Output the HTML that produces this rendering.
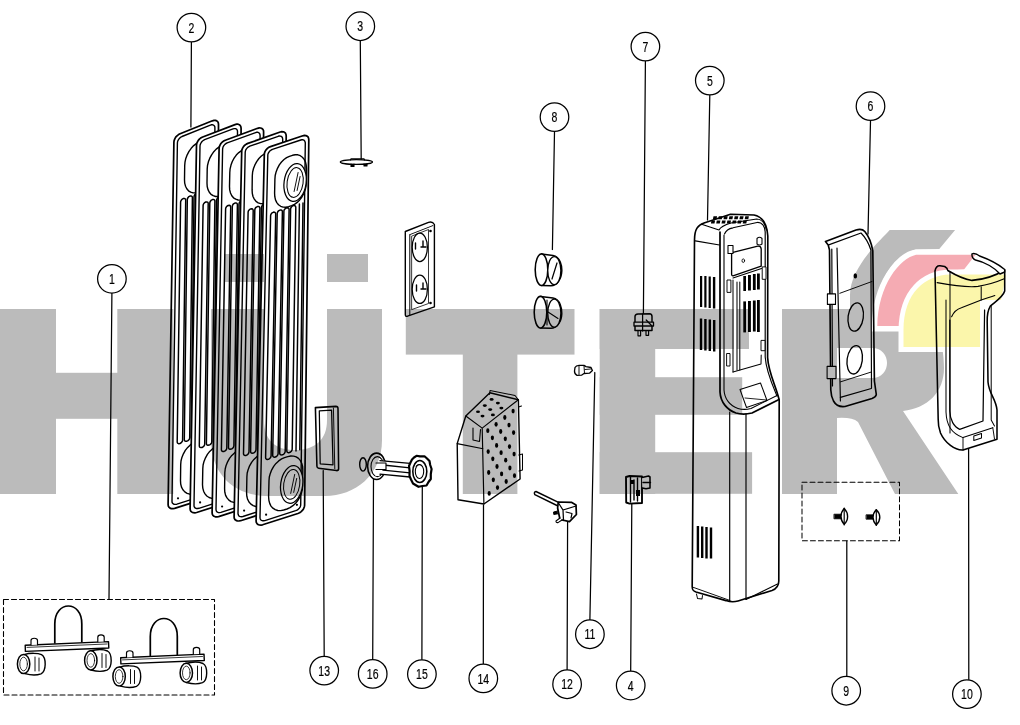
<!DOCTYPE html>
<html><head><meta charset="utf-8"><style>
html,body{margin:0;padding:0;background:#fff;}
svg{display:block;}
text{font-family:"Liberation Sans",sans-serif;font-size:15px;fill:#000;stroke:#000;stroke-width:0.2px;}
</style></head><body>
<svg width="1020" height="725" viewBox="0 0 1020 725">
<rect width="1020" height="725" fill="#fff"/>
<g id="art" fill="none" stroke="#000" stroke-width="1.2" stroke-linejoin="round" stroke-linecap="round">
<g stroke-width="1.25">
<line x1="111.9" y1="293.5" x2="109" y2="599"/>
<line x1="191.4" y1="42.3" x2="190.9" y2="127"/>
<line x1="360.3" y1="41" x2="361.2" y2="159.4"/>
<line x1="630.7" y1="670.8" x2="631.8" y2="503"/>
<line x1="709.8" y1="95.3" x2="707.5" y2="220"/>
<line x1="870.5" y1="121" x2="868" y2="234"/>
<line x1="645.4" y1="61.3" x2="643.4" y2="314"/>
<line x1="554.5" y1="131.8" x2="552.4" y2="249.5"/>
<line x1="846.8" y1="676" x2="846.8" y2="541"/>
<line x1="968.8" y1="679.4" x2="968.6" y2="447"/>
<line x1="589.9" y1="619.5" x2="594.8" y2="372.5"/>
<line x1="567.1" y1="669.5" x2="567.6" y2="521"/>
<line x1="324.2" y1="655.9" x2="323.2" y2="470.5"/>
<line x1="483.3" y1="663.7" x2="483.5" y2="505"/>
<line x1="421.9" y1="659.4" x2="422.3" y2="486"/>
<line x1="372.7" y1="659.2" x2="373.5" y2="479"/>
</g>
<g id="feet">
<rect x="3.5" y="599.5" width="211" height="95.5" stroke-dasharray="5 3" stroke-width="1.09"/>
<g id="foot1">
 <path d="M54.8,643 V624 C54.8,600 82,600 81.8,624 V642" stroke-width="1.72"/>
 <path d="M25.2,645.2 L108.5,641.6 L108.8,648 L25.4,651.4 Z" fill="#fff" stroke-width="1.40"/>
 <path d="M27,647.4 L107,644" stroke-width="0.78"/>
 <path d="M31,645 V640.5 C31,637.5 37.5,637.5 37.5,640.5 V644.8" fill="#fff" stroke-width="1.17"/>
 <path d="M97.8,641.8 V637.2 C97.8,634.2 104.2,634.2 104.2,637.2 V641.5" fill="#fff" stroke-width="1.17"/>
 <path d="M24,654.6 C30,652.8 38,653 41.5,654.6 C46.5,657.5 46.5,671 41,673.8 C37,675.2 30,675 25,673.6" fill="#fff" stroke-width="1.40"/>
 <ellipse cx="23.6" cy="664" rx="6.2" ry="9.6" fill="#fff" stroke-width="1.48"/>
 <ellipse cx="23.6" cy="664" rx="3.8" ry="6.8" stroke-width="0.78"/>
 <path d="M35,657 V671 M39,658 V671" stroke-width="0.94"/>
 <path d="M90,651 C97,649 104,649.4 107.5,651 C112.5,654 112.5,667.5 107,670.2 C103,671.6 96,671.4 91,670" fill="#fff" stroke-width="1.40"/>
 <ellipse cx="90.8" cy="660.4" rx="6.2" ry="9.6" fill="#fff" stroke-width="1.48"/>
 <ellipse cx="90.8" cy="660.4" rx="3.8" ry="6.8" stroke-width="0.78"/>
 <path d="M102,653.5 V667.5 M106,654.5 V667.5" stroke-width="0.94"/>
</g>
<use href="#foot1" transform="translate(95.5 12.5)"/>
</g>

<g id="part3">
 <ellipse cx="356.4" cy="162" rx="16" ry="2.4" fill="#fff" stroke-width="1.40"/>
 <path d="M350.5,160 L351,158.8 H364 L364.5,160" stroke-width="1.09"/>
 <path d="M351,164 V166.5 H354 V164 M364,164 V166 H367 V164" stroke-width="1.09" fill="#000"/>
</g>
<g id="plate">
 <path d="M405.3,231.5 L428.5,222.3 Q432.5,221 434.4,224.5 V306.8 L407.5,316.2 Q405.3,316.8 405.3,314.5 Z" fill="#fff" stroke-width="1.40"/>
 <path d="M409.8,234.6 L432.8,225.6 M409.8,234.6 V315" stroke-width="1.01"/>
 <path d="M412,236 L428.5,229.5 V303.5 L412,309.5 Z" stroke-width="0.78"/>
 <ellipse cx="419.8" cy="247.3" rx="7.6" ry="14.2" stroke-width="1.25"/>
 <ellipse cx="419.8" cy="289.3" rx="7.6" ry="14.2" stroke-width="1.25"/>
 <path d="M415.5,243 V249 M416.5,285 V291 M423,241 V246 M423,283 V288 M421,247 H426 M421,289 H426" stroke-width="1.40"/>
 <circle cx="430.5" cy="231" r="1.3" fill="#000" stroke="none"/>
 <circle cx="430.5" cy="303" r="1.3" fill="#000" stroke="none"/>
</g>

<g id="part13">
 <path d="M315.4,407.6 L335.8,406.4 Q338,406.4 338,408.6 L338.6,468.8 Q338.6,470.6 336.6,470.6 L318.6,468.2 Q317,468 316.9,466.3 Z" fill="#fff" stroke-width="1.56"/>
 <path d="M319.3,410.8 L331.6,410.2 L333,464.8 L320.2,463.8 Z" stroke-width="1.25"/>
 <path d="M333.4,408 L334.8,468.6" stroke-width="0.94"/>
</g>
<g id="part16">
 <ellipse cx="363" cy="464.4" rx="3.3" ry="6.7" fill="#fff" stroke-width="1.40"/>
 <ellipse cx="376.6" cy="466.3" rx="9" ry="13.2" fill="#fff" stroke-width="1.56"/>
 <ellipse cx="377.4" cy="466.6" rx="6.4" ry="10" stroke-width="1.09"/>
</g>
<g id="tube">
 <path d="M381,460.6 L410,463.3 L410,477 L381,474.2 Z" fill="#fff" stroke="none"/>
 <path d="M380,460.6 L410,463.4 M380,474.2 L410,477 M383,465 L410,467.8 M383,470.2 L410,472.8" stroke-width="1.33"/>
 <path d="M376,463 H386 V469.5 H376" fill="#fff" stroke-width="1.17"/>
</g>
<g id="part15">
 <path d="M412,459.5 L414,457.5 L416.5,455.8 L420,456.4 L424.5,456.3 L427,458.5 L429.5,461 L430.2,465 L431.6,469 L430.8,474 L430.8,479 L428.5,482 L426.5,485.5 L422.5,486 L418.5,486.8 L415.5,485 L413,483.5 L411,479.5 L409.5,476 L409.6,471 L409,466 L410.5,462.5 Z" fill="#fff" stroke-width="2.18"/>
 <ellipse cx="419.8" cy="471.5" rx="7" ry="11" stroke-width="1.56"/>
 <ellipse cx="419.5" cy="471.5" rx="4.2" ry="7" stroke-width="1.09"/>
 <path d="M416,466 Q419,463 422,466" stroke-width="0.94"/>
</g>
<g id="part14">
 <path d="M465.8,416 L489.9,392.8 L518.4,399.7 L520.1,479 L483.9,504 L458,499.7 L457.2,443.6 Z" fill="#fff" stroke-width="1.40"/>
 <path d="M465.8,416 L482.2,428.1 L518.4,399.7 M482.2,428.1 L483.9,504 M457.2,443.6 L483,448.8" stroke-width="1.17"/>
 <path d="M489.5,394.5 L490,390.5 L515,395.5 L518.4,399.7" stroke-width="1.01"/>
 <path d="M473,428 L473,440 L479.5,441.5 L480.5,429.5" stroke-width="1.09"/>
 <path d="M518.5,407 L521.5,406 M518.8,455 L522.5,454 L522.5,470 L519,471" stroke-width="1.01"/>
 <g fill="#000" stroke="none">
 <ellipse cx="478.0" cy="411.7" rx="2" ry="1.3"/><ellipse cx="484.8" cy="405.6" rx="2" ry="1.3"/><ellipse cx="491.6" cy="399.4" rx="2" ry="1.3"/><ellipse cx="482.5" cy="416.1" rx="2" ry="1.3"/><ellipse cx="490.2" cy="409.6" rx="2" ry="1.3"/><ellipse cx="497.9" cy="403.1" rx="2" ry="1.3"/><ellipse cx="492.9" cy="414.9" rx="2" ry="1.3"/><ellipse cx="501.4" cy="408.1" rx="2" ry="1.3"/>
 <ellipse cx="487.8" cy="430.7" rx="1.6" ry="2.4"/><ellipse cx="496.1" cy="424.3" rx="1.6" ry="2.4"/><ellipse cx="504.8" cy="417.5" rx="1.6" ry="2.4"/><ellipse cx="513.1" cy="411.1" rx="1.6" ry="2.4"/><ellipse cx="492.4" cy="437.8" rx="1.6" ry="2.4"/><ellipse cx="500.7" cy="431.5" rx="1.6" ry="2.4"/><ellipse cx="509.0" cy="425.1" rx="1.6" ry="2.4"/><ellipse cx="488.2" cy="451.6" rx="1.6" ry="2.4"/><ellipse cx="496.6" cy="445.4" rx="1.6" ry="2.4"/><ellipse cx="505.3" cy="438.8" rx="1.6" ry="2.4"/><ellipse cx="513.6" cy="432.6" rx="1.6" ry="2.4"/><ellipse cx="492.8" cy="458.8" rx="1.6" ry="2.4"/><ellipse cx="501.1" cy="452.7" rx="1.6" ry="2.4"/><ellipse cx="509.5" cy="446.6" rx="1.6" ry="2.4"/><ellipse cx="488.7" cy="472.5" rx="1.6" ry="2.4"/><ellipse cx="497.0" cy="466.5" rx="1.6" ry="2.4"/><ellipse cx="505.7" cy="460.2" rx="1.6" ry="2.4"/><ellipse cx="514.1" cy="454.1" rx="1.6" ry="2.4"/><ellipse cx="493.3" cy="479.8" rx="1.6" ry="2.4"/><ellipse cx="501.6" cy="473.9" rx="1.6" ry="2.4"/><ellipse cx="509.9" cy="468.0" rx="1.6" ry="2.4"/><ellipse cx="489.2" cy="493.4" rx="1.6" ry="2.4"/><ellipse cx="497.5" cy="487.6" rx="1.6" ry="2.4"/><ellipse cx="506.2" cy="481.5" rx="1.6" ry="2.4"/><ellipse cx="514.5" cy="475.7" rx="1.6" ry="2.4"/>
 </g>
</g>
<g id="part12">
 <path d="M536,491.5 L559.5,502.8 L558,506 L534.8,494.6 Q533.5,492 536,491.5 Z" fill="#fff" stroke-width="1.40"/>
 <path d="M558.3,502 L571.4,502.3 L576,505 L576.4,514.5 L569.5,521.6 L560,519.5 L557.6,508 Z" fill="#fff" stroke-width="1.72"/>
 <path d="M558.5,503 L563,510 L576,506 M563,510 L563.5,520.5" stroke-width="1.25"/>
 <path d="M566,512 L572,513.5 L571,518" stroke-width="1.17"/>
 <path d="M557.6,511 L553.5,512 L553.8,514.5 L558,513.8" fill="#000" stroke-width="0.94"/>
 <path d="M560,518 L556,521 Q555.8,523 558,522.6 L562,520" fill="#fff" stroke-width="1.09"/>
</g>
<g id="part11">
 <path d="M575,367.5 Q576,365.5 579,365.3 L584,365.4 L586,366.6 L591,367.5 L592.4,370.5 L589.5,373.2 L584,373.5 L581.5,375.2 L577,375.3 Q574.4,374 574.5,371 Z" fill="#fff" stroke-width="1.33"/>
 <path d="M579,366 V374.5 M584,366 L584.5,373.3 M585,369.5 L590.5,369" stroke-width="0.94"/>
</g>
<g id="part4">
 <path d="M626,477 L629.5,476 L642,476.5 V503 L629.5,503.6 L626.2,502.5 Z" fill="#fff" stroke-width="1.87"/>
 <path d="M642,477.5 L648.5,476 L650,477 V488 L646,488.8 L642.3,488" fill="#fff" stroke-width="1.56"/>
 <path d="M630.5,477 V502 M634,480 V500 M637.5,478 V501 M643,482.5 H650.5" stroke-width="1.40"/>
 <rect x="631" y="480" width="3" height="4" fill="#000" stroke="none"/>
 <rect x="636" y="490" width="4" height="6" fill="#000" stroke="none"/>
</g>
<g id="part7">
 <path d="M635,316.5 Q635,314.2 638,314 L649.5,313.8 Q652,314 652,316.5 V330.5 H635 Z" fill="#fff" stroke-width="1.48"/>
 <path d="M634,322.2 H653.5 V326 H634 Z" fill="#fff" stroke-width="1.33"/>
 <path d="M642.6,314 V331 M646.2,320 L651.5,325.5" stroke-width="1.25"/>
 <path d="M638,331 V335.8 H640.6 V331 M646,331 V335.3 H648.6 V331" stroke-width="1.17"/>
</g>
<g id="part8">
 <path d="M541.5,254 L553,255.5 C560.5,256.5 562,267 561.8,271 C561.5,279 557,285.8 551,285.8 L541.5,285.4" fill="#fff" stroke-width="1.48"/>
 <ellipse cx="541.5" cy="269.7" rx="6.3" ry="15.8" fill="#fff" stroke-width="1.56"/>
 <ellipse cx="554.3" cy="270.6" rx="6.6" ry="14" fill="#fff" stroke-width="1.40"/>
 <path d="M552,279 L557,263" stroke-width="1.25"/>
 <path d="M540.5,296.5 L553,298 C560.5,299 562,309.6 561.8,313.6 C561.5,321.5 557,328.3 551,328.3 L540.5,328" fill="#fff" stroke-width="1.48"/>
 <ellipse cx="540.5" cy="312.2" rx="6.3" ry="15.8" fill="#fff" stroke-width="1.56"/>
 <ellipse cx="554.3" cy="313.1" rx="6.6" ry="14" fill="#fff" stroke-width="1.40"/>
 <path d="M548,312 L558,318.5 M547,300 V325" stroke-width="1.09"/>
</g>
<g id="part9">
 <rect x="802" y="482.3" width="97.5" height="58.4" stroke-dasharray="5 3" stroke-width="1.01"/>
 <path d="M834.3,514.2 H842 V518.8 H834.3 Z" fill="#000" stroke-width="0.78"/>
 <path d="M844.2,508.5 Q847.6,512 847.6,516.4 Q847.6,521 844.2,524.2 Q841,521 841,516.4 Q841,512 844.2,508.5 Z" fill="#fff" stroke-width="1.40"/>
 <path d="M844.2,508 V525" stroke-width="1.17"/>
 <path d="M866.4,514.8 H874 V519.2 H866.4 Z" fill="#000" stroke-width="0.78"/>
 <path d="M876.3,509.8 Q879.8,513.2 879.8,517.3 Q879.8,521.6 876.3,524.9 Q873,521.6 873,517.3 Q873,513.2 876.3,509.8 Z" fill="#fff" stroke-width="1.40"/>
 <path d="M876.3,509.5 V525.5" stroke-width="1.17"/>
</g>

<g id="part5">
 <path d="M694.5,240 C694.5,229 698,225 704,223 L730.5,214.3 L754,215 C762,216.5 767,224 767.8,236 L767.6,357.6 C768.5,373 776,386 779.2,400 L778.8,581 C778.8,587 776,589 772,590.5 L738,601 C734,602.2 730,602 726,600.6 L696,592 C693,591 692.2,590 692.2,586.5 Z" fill="#fff" stroke-width="1.64"/>
 <path d="M696.5,594 L697.5,598.5 L702,599 L702.5,595.5" stroke-width="1.01"/>
 <path d="M695.3,240.9 L719.5,245 M701.6,224.3 L719,230 C721,226 726,224.5 731,223 L756.7,219 C761,219 765,223 766.5,230" stroke-width="1.17"/>
 <path d="M713.5,216.3 h3.6 l-0.6,3 h-3.6 Z M718.8,216.3 h3.6 l-0.6,3 h-3.6 Z M724.1,216.3 h3.6 l-0.6,3 h-3.6 Z M729.4,216.3 h3.6 l-0.6,3 h-3.6 Z M734.7,216.3 h3.6 l-0.6,3 h-3.6 Z M740.0,216.3 h3.6 l-0.6,3 h-3.6 Z M745.3,216.3 h3.6 l-0.6,3 h-3.6 Z M711.5,220.6 h3.6 l-0.6,3 h-3.6 Z M716.8,220.6 h3.6 l-0.6,3 h-3.6 Z M722.1,220.6 h3.6 l-0.6,3 h-3.6 Z M727.4,220.6 h3.6 l-0.6,3 h-3.6 Z M732.7,220.6 h3.6 l-0.6,3 h-3.6 Z M738.0,220.6 h3.6 l-0.6,3 h-3.6 Z M743.3,220.6 h3.6 l-0.6,3 h-3.6 Z" fill="#000" stroke="none"/>
 
 <!-- front panel upper left edge double line -->
 <path d="M720,232 V392 C720.5,402 727,410 736,413 C742,414.8 747,414.2 752,413 L779,399.5" stroke-width="1.72"/>
 <path d="M724,235 V390 C724.5,399 730,406 738,408.5 C742.5,409.8 747,409.5 751,408.5 L777,395.5" stroke-width="1.09"/>
 <path d="M724.5,234 C726,230 729,228.5 733,227.8 L757,222.5 C762,222 765,226 765.2,232 V357 C766,371 772,384 777,396" stroke-width="1.17"/>
 <!-- lower body edges -->
 <path d="M729.7,412 V600.5 M746,414 V599.5" stroke-width="1.17"/>
 <path d="M692.3,587 L730,600.5" stroke-width="0.94"/>
 <path d="M746,599.5 L777.5,584" stroke-width="1.01"/>
 <!-- control plate -->
 <path d="M733,252.4 L757.8,246.2 Q761,246 761.2,249 V266.2 L733,275.9 Q731.6,276 731.6,274 V254 Q731.6,252.8 733,252.4 Z" fill="#fff" stroke-width="1.33"/>
 <path d="M733,278 L761.5,268.5" stroke-width="1.09"/>
 <ellipse cx="743.3" cy="260.7" rx="1.3" ry="1.8" stroke-width="0.86"/>
 <path d="M728,245.5 H733 V253.5 H728 Z" fill="#fff" stroke-width="1.09"/>
 <path d="M757,238.5 Q759.5,236 762,238.5 V244 Q759.5,246 757,244 Z" fill="#fff" stroke-width="1.09"/>
 <path d="M727.4,280 H730.9 V292.4 H727.4 Z M762.6,266.9 H766 V279.3 H762.6 Z M727,353.5 H730 V366 H727 Z M761.4,340.4 H765 V350.7 H761.4 Z" fill="#fff" stroke-width="0.94"/>
 <path d="M733,280 V372 M737,282 V370 M739.8,282 V370" stroke-width="1.01"/>
 <path d="M733,372 L761,364 L761.2,355" stroke-width="1.01"/>
 <!-- front vents -->
 <g fill="#000" stroke="none">
  <rect x="743.3" y="276" width="2.7" height="15"/><rect x="748" y="275" width="2.9" height="15.5"/><rect x="752.9" y="274" width="2.8" height="16"/><rect x="757" y="273.5" width="2.8" height="16"/>
  <rect x="743.3" y="301.4" width="2.7" height="31"/><rect x="748" y="301" width="2.9" height="31"/><rect x="752.9" y="300.5" width="2.8" height="31"/><rect x="757" y="300" width="2.8" height="32"/>
 </g>
 <!-- side vents -->
 <g fill="#000" stroke="none">
  <rect x="700" y="276" width="2.2" height="31"/><rect x="704.3" y="276" width="2.2" height="31.5"/><rect x="708.6" y="276.5" width="2.2" height="31.5"/><rect x="712.9" y="277" width="2.4" height="31.5"/>
  <rect x="699.8" y="318.5" width="2.4" height="31.5"/><rect x="704.2" y="319" width="2.4" height="31.5"/><rect x="708.6" y="319.5" width="2.4" height="31.5"/><rect x="713" y="320" width="2.4" height="31.5"/>
  <rect x="696.7" y="526" width="2.4" height="31.5"/><rect x="701" y="526.5" width="2.4" height="31.5"/><rect x="705.3" y="527" width="2.4" height="31.5"/><rect x="709.8" y="527.5" width="2.4" height="31"/>
 </g>
 <!-- display window in J -->
 <path d="M740,389.5 L760.5,383 L767,400.5 L746.5,407.5 Z" stroke-width="1.01"/>
 <path d="M745,398 L766.5,400" stroke-width="0.86"/>
</g>

<g id="part6">
 <path d="M825.5,241.5 L856,230 Q862,228.3 864.8,231.5 C868.5,236 871.5,243 872.8,251 L874.4,381 L876.3,394.5 Q876,397 872,398.5 L845,406.5 Q837,407.5 833.5,401 Q831,396 830.8,390 L829.5,250 L828.2,245 Z" fill="#fff" stroke-width="1.64"/>
 <path d="M828.7,244.9 L861,233 C866,238 869,244 870.9,250 L871.5,388" stroke-width="1.17"/>
 <path d="M837,248 L840.4,401 M831.8,249 L832.5,386" stroke-width="1.17"/>
 <path d="M840.4,397.3 L871.3,388.5" stroke-width="1.25"/>
 <path d="M839.8,293.3 L872,281.5 M840.4,381.9 L871.3,372" stroke-width="0.94"/>
 <ellipse cx="855.7" cy="317" rx="7.6" ry="14.3" transform="rotate(8 855.7 317)" fill="#fff" stroke-width="1.33"/>
 <ellipse cx="854.7" cy="359.8" rx="7.6" ry="14.3" transform="rotate(8 854.7 359.8)" fill="#fff" stroke-width="1.33"/>
 <ellipse cx="855.3" cy="275.9" rx="1.8" ry="2.6" fill="#000" stroke="none"/>
 <path d="M827.4,293.9 H835.5 V304.4 H827.4 Z M827.1,366.4 H836 V378.6 H827.1 Z" fill="#fff" stroke-width="1.09"/>
</g>
<g id="part10">
 <path d="M935,271 Q936,265.5 940,265.8 L944.7,266.5 Q947.5,268 947.8,270.5 C957,276 965,279.5 972,280.4 C985,279.5 995,276 1004.7,270 V291 C1003,297 995,302 990.3,306.2 C987.5,311 987,316 987.2,322 L988,382 C989,394 996,399 997,410 V439.3 L963,450 C955,450.5 945,443 940.5,433 Q938,426 938.2,419.4 Z" fill="#fff" stroke-width="1.56"/>
 <path d="M972,253.8 Q975.5,252.8 979.6,256 C988,259 997,263 1004.7,269.5 L1004.7,272 L1000,274 C995,268 985,262 975.5,260 Q971.5,258.5 972,253.8 Z" fill="#fff" stroke-width="1.40"/>
 <path d="M937.1,282.6 C955,286 968,287.5 978,286.4 C990,284.5 998,281.5 1004.2,278.8" stroke-width="1.09"/>
 <path d="M950,272 V433 M981.2,286.8 V300" stroke-width="1.01"/>
 <path d="M951.6,316.8 C954,311 957,309 961.4,307.7 L981.2,300 C987,298 991,297 994.8,295.5" stroke-width="1.09"/>
 <path d="M949.8,320 V411 C950,420 954,427 959.7,429.3 L983,421 L984.6,310" stroke-width="1.25"/>
 <path d="M946,300 V412 C946.5,425 951,433 963,437.6 L992.8,427.7 M991.2,306 V420 L994.5,426" stroke-width="1.01"/>
 <path d="M963,437.6 V450 M992.8,427.7 L994.5,439" stroke-width="0.94"/>
 <path d="M973.8,436 L981.5,433.5 V438 L973.8,440.5 Z" stroke-width="1.01"/>
</g>

<g id="radiator">
<path d="M212.4,120.8 L214.0,120.4 L215.5,120.4 L216.7,120.9 L217.7,121.7 L218.3,122.9 L218.5,124.4 L216.5,489.0 L216.3,490.6 L215.6,492.3 L214.6,493.9 L213.2,495.2 L211.6,496.4 L209.9,497.1 L174.6,508.4 L172.9,508.7 L171.3,508.6 L170.0,508.1 L168.9,507.2 L168.3,506.0 L168.1,504.5 L173.9,142.2 L174.1,140.6 L174.8,138.9 L175.7,137.2 L177.0,135.8 L178.5,134.6 L180.1,133.8 Z" fill="#fff" stroke-width="1.72"/>
<path d="M210.4,125.1 L211.6,124.8 L212.7,124.8 L213.6,125.2 L214.3,125.8 L214.8,126.7 L214.9,127.8 L212.7,488.2 L212.5,489.4 L212.0,490.7 L211.2,491.9 L210.2,492.9 L209.0,493.7 L207.7,494.3 L176.9,504.2 L175.6,504.4 L174.4,504.4 L173.4,504.0 L172.6,503.3 L172.1,502.4 L172.0,501.3 L177.4,142.8 L177.6,141.5 L178.1,140.3 L178.8,139.1 L179.8,138.0 L180.9,137.1 L182.0,136.5 Z" stroke-width="1.40"/>
<path d="M202.2,140.9 L204.9,140.2 L207.6,140.1 L210.0,140.8 L212.2,142.2 L213.9,144.3 L215.2,146.9 L216.0,149.9 L216.3,153.3 L216.2,167.4 L215.9,171.0 L215.1,174.7 L213.7,178.4 L211.9,181.8 L209.7,184.9 L207.2,187.5 L204.5,189.6 L201.7,191.0 L198.6,192.2 L195.8,192.9 L193.1,192.9 L190.7,192.2 L188.5,190.8 L186.8,188.8 L185.5,186.2 L184.7,183.1 L184.5,179.7 L184.7,165.7 L185.0,162.1 L185.8,158.4 L187.2,154.8 L189.0,151.4 L191.2,148.3 L193.7,145.6 L196.3,143.6 L199.1,142.1 Z" stroke-width="1.40"/>
<path d="M199.4,440.5 L202.4,439.9 L205.2,440.0 L207.9,440.8 L210.1,442.2 L212.0,444.3 L213.4,447.0 L214.3,450.1 L214.5,453.5 L214.4,469.6 L214.1,473.2 L213.2,476.9 L211.8,480.5 L209.9,483.8 L207.5,486.8 L204.8,489.4 L201.9,491.3 L198.9,492.6 L195.6,493.7 L192.6,494.3 L189.8,494.2 L187.1,493.4 L184.8,491.9 L182.9,489.8 L181.5,487.1 L180.7,484.0 L180.5,480.6 L180.7,464.6 L181.0,461.0 L181.9,457.4 L183.4,453.8 L185.3,450.4 L187.7,447.4 L190.3,444.9 L193.2,442.9 L196.2,441.6 Z" stroke-width="1.40"/>
<path d="M177.2,441.9 L180.6,202.1 L180.8,201.1 L181.4,200.1 L182.2,199.2 L183.2,198.6 L184.2,198.4 L185.0,198.7 L185.6,199.3 L185.7,200.1 L182.6,440.1 L182.6,440.1 L182.4,441.1 L181.8,442.1 L180.9,443.0 L179.9,443.5 L178.8,443.7 L178.0,443.4 L177.4,442.8 L177.2,441.9 Z" stroke-width="1.48"/>
<path d="M184.3,439.6 L187.3,199.5 L187.5,198.5 L188.1,197.5 L188.9,196.6 L189.9,196.1 L190.9,195.9 L191.7,196.1 L192.2,196.7 L192.4,197.6 L189.7,437.8 L189.7,437.8 L189.5,438.8 L188.9,439.8 L188.0,440.6 L186.9,441.2 L185.9,441.3 L185.0,441.1 L184.5,440.5 L184.3,439.6 Z" stroke-width="1.48"/>
<path d="M191.3,437.2 L194.0,197.0 L194.2,195.9 L194.7,194.9 L195.6,194.1 L196.6,193.5 L197.5,193.3 L198.4,193.5 L198.9,194.1 L199.1,195.0 L196.8,435.4 L196.8,435.4 L196.5,436.4 L195.9,437.4 L195.1,438.3 L194.0,438.8 L193.0,439.0 L192.1,438.7 L191.5,438.1 L191.3,437.2 Z" stroke-width="1.48"/>
<path d="M198.4,434.9 L200.7,194.4 L200.9,193.4 L201.4,192.3 L202.3,191.5 L203.2,190.9 L204.2,190.7 L205.1,191.0 L205.6,191.5 L205.8,192.4 L203.8,433.1 L203.8,433.1 L203.6,434.1 L203.0,435.1 L202.1,435.9 L201.1,436.5 L200.0,436.6 L199.2,436.4 L198.6,435.8 L198.4,434.9 Z" stroke-width="1.48"/>
<path d="M209.4,189.0 L207.6,434.8" stroke-width="1.48"/>
<path d="M213.0,187.7 L211.4,433.5" stroke-width="1.48"/>
<circle cx="178.0" cy="498.3" r="1.1" fill="#000" stroke="none"/>
<circle cx="208.8" cy="488.4" r="1.1" fill="#000" stroke="none"/>
<path d="M235.0,124.6 L236.6,124.2 L238.1,124.2 L239.3,124.7 L240.3,125.6 L240.9,126.8 L241.1,128.3 L238.5,493.1 L238.3,494.7 L237.6,496.4 L236.6,498.0 L235.2,499.3 L233.6,500.5 L231.9,501.2 L196.6,512.5 L194.9,512.8 L193.3,512.7 L192.0,512.2 L190.9,511.3 L190.3,510.1 L190.1,508.6 L196.5,145.3 L196.7,143.7 L197.4,142.0 L198.3,140.4 L199.6,138.9 L201.1,137.8 L202.7,137.0 Z" fill="#fff" stroke-width="1.72"/>
<path d="M233.0,128.9 L234.2,128.6 L235.3,128.6 L236.2,128.9 L236.9,129.6 L237.4,130.5 L237.5,131.6 L234.7,492.3 L234.5,493.5 L234.0,494.8 L233.2,496.0 L232.2,497.0 L231.0,497.8 L229.7,498.4 L198.9,508.3 L197.6,508.5 L196.4,508.5 L195.4,508.1 L194.6,507.4 L194.1,506.5 L194.0,505.4 L200.0,146.0 L200.2,144.7 L200.7,143.5 L201.4,142.3 L202.3,141.2 L203.5,140.3 L204.6,139.7 Z" stroke-width="1.40"/>
<path d="M224.7,144.5 L227.5,143.8 L230.2,143.8 L232.6,144.5 L234.8,146.0 L236.5,148.0 L237.8,150.7 L238.6,153.7 L238.8,157.2 L238.7,171.2 L238.4,174.9 L237.6,178.6 L236.2,182.2 L234.4,185.6 L232.2,188.7 L229.7,191.2 L227.0,193.3 L224.2,194.7 L221.1,195.8 L218.3,196.5 L215.6,196.5 L213.2,195.7 L211.0,194.3 L209.3,192.2 L208.0,189.6 L207.2,186.5 L207.0,183.1 L207.2,169.1 L207.5,165.5 L208.4,161.8 L209.8,158.2 L211.6,154.8 L213.8,151.7 L216.2,149.1 L218.9,147.1 L221.7,145.7 Z" stroke-width="1.40"/>
<path d="M221.5,444.5 L224.5,443.9 L227.3,444.0 L229.9,444.8 L232.2,446.3 L234.1,448.4 L235.5,451.1 L236.3,454.2 L236.6,457.6 L236.5,473.7 L236.2,477.3 L235.3,481.0 L233.8,484.6 L231.9,487.9 L229.5,490.9 L226.9,493.4 L224.0,495.4 L221.0,496.7 L217.6,497.8 L214.6,498.4 L211.8,498.3 L209.1,497.5 L206.8,496.0 L205.0,493.9 L203.6,491.2 L202.8,488.1 L202.5,484.7 L202.8,468.6 L203.1,465.0 L204.0,461.4 L205.5,457.8 L207.4,454.4 L209.7,451.4 L212.4,448.9 L215.3,446.9 L218.2,445.6 Z" stroke-width="1.40"/>
<path d="M199.3,445.9 L203.1,205.5 L203.3,204.5 L203.9,203.4 L204.7,202.6 L205.7,202.0 L206.7,201.9 L207.5,202.1 L208.1,202.7 L208.2,203.6 L204.7,444.1 L204.7,444.1 L204.5,445.1 L203.9,446.1 L203.0,446.9 L202.0,447.5 L200.9,447.6 L200.1,447.4 L199.5,446.7 L199.3,445.9 Z" stroke-width="1.48"/>
<path d="M206.4,443.5 L209.8,203.0 L210.0,202.0 L210.6,201.0 L211.4,200.1 L212.4,199.6 L213.4,199.4 L214.2,199.6 L214.7,200.2 L214.9,201.1 L211.8,441.7 L211.8,441.7 L211.6,442.8 L211.0,443.8 L210.1,444.6 L209.1,445.1 L208.0,445.3 L207.1,445.0 L206.6,444.4 L206.4,443.5 Z" stroke-width="1.48"/>
<path d="M213.4,441.2 L216.5,200.5 L216.7,199.5 L217.2,198.5 L218.1,197.6 L219.1,197.1 L220.0,196.9 L220.9,197.1 L221.4,197.7 L221.6,198.6 L218.9,439.4 L218.9,439.4 L218.6,440.4 L218.0,441.4 L217.2,442.3 L216.1,442.8 L215.1,443.0 L214.2,442.7 L213.6,442.1 L213.4,441.2 Z" stroke-width="1.48"/>
<path d="M220.5,438.9 L223.1,198.1 L223.4,197.0 L223.9,196.0 L224.8,195.2 L225.7,194.6 L226.7,194.4 L227.5,194.7 L228.1,195.3 L228.3,196.2 L225.9,437.1 L225.9,437.1 L225.7,438.1 L225.1,439.1 L224.2,439.9 L223.2,440.5 L222.1,440.6 L221.3,440.4 L220.7,439.8 L220.5,438.9 Z" stroke-width="1.48"/>
<path d="M231.9,192.8 L229.7,438.8" stroke-width="1.48"/>
<path d="M235.5,191.5 L233.5,437.6" stroke-width="1.48"/>
<circle cx="200.1" cy="502.4" r="1.1" fill="#000" stroke="none"/>
<circle cx="230.9" cy="492.5" r="1.1" fill="#000" stroke="none"/>
<path d="M257.6,128.3 L259.2,127.9 L260.7,128.0 L261.9,128.5 L262.9,129.4 L263.5,130.6 L263.6,132.1 L260.6,497.2 L260.3,498.8 L259.6,500.5 L258.6,502.1 L257.2,503.4 L255.6,504.6 L253.9,505.3 L218.6,516.6 L216.9,516.9 L215.3,516.8 L214.0,516.3 L212.9,515.4 L212.3,514.2 L212.1,512.7 L219.1,148.4 L219.3,146.8 L220.0,145.1 L220.9,143.5 L222.2,142.1 L223.7,141.0 L225.3,140.2 Z" fill="#fff" stroke-width="1.72"/>
<path d="M255.6,132.6 L256.7,132.3 L257.8,132.3 L258.8,132.7 L259.5,133.4 L259.9,134.3 L260.1,135.4 L256.7,496.4 L256.5,497.6 L256.0,498.9 L255.2,500.1 L254.2,501.1 L253.0,501.9 L251.7,502.5 L220.9,512.4 L219.6,512.6 L218.4,512.6 L217.4,512.2 L216.6,511.5 L216.2,510.6 L216.0,509.4 L222.6,149.1 L222.8,147.9 L223.2,146.6 L224.0,145.4 L224.9,144.4 L226.0,143.5 L227.2,142.9 Z" stroke-width="1.40"/>
<path d="M247.3,148.1 L250.1,147.4 L252.7,147.5 L255.2,148.3 L257.3,149.7 L259.1,151.8 L260.3,154.5 L261.1,157.6 L261.4,161.0 L261.2,175.1 L260.9,178.7 L260.1,182.4 L258.7,186.0 L256.9,189.4 L254.7,192.4 L252.2,195.0 L249.5,197.0 L246.7,198.3 L243.6,199.4 L240.8,200.1 L238.1,200.0 L235.7,199.2 L233.5,197.8 L231.8,195.7 L230.5,193.0 L229.7,189.9 L229.5,186.5 L229.8,172.5 L230.1,168.8 L231.0,165.1 L232.3,161.5 L234.1,158.2 L236.3,155.1 L238.8,152.6 L241.5,150.6 L244.3,149.2 Z" stroke-width="1.40"/>
<path d="M243.6,448.5 L246.6,447.9 L249.4,448.0 L252.0,448.8 L254.3,450.3 L256.2,452.5 L257.6,455.1 L258.4,458.2 L258.7,461.7 L258.5,477.8 L258.2,481.4 L257.3,485.1 L255.8,488.6 L253.9,492.0 L251.6,495.0 L248.9,497.5 L246.0,499.5 L243.0,500.8 L239.7,501.9 L236.7,502.5 L233.8,502.4 L231.1,501.6 L228.9,500.1 L227.0,497.9 L225.6,495.3 L224.8,492.2 L224.6,488.7 L224.8,472.7 L225.2,469.0 L226.1,465.4 L227.6,461.8 L229.5,458.4 L231.8,455.4 L234.5,452.9 L237.4,450.9 L240.3,449.6 Z" stroke-width="1.40"/>
<path d="M221.4,449.8 L225.6,208.9 L225.8,207.9 L226.4,206.8 L227.2,206.0 L228.2,205.5 L229.2,205.3 L230.0,205.5 L230.5,206.2 L230.7,207.0 L226.8,448.0 L226.8,448.0 L226.6,449.1 L226.0,450.1 L225.1,450.9 L224.1,451.4 L223.1,451.6 L222.2,451.3 L221.6,450.7 L221.4,449.8 Z" stroke-width="1.48"/>
<path d="M228.5,447.5 L232.3,206.5 L232.5,205.5 L233.0,204.4 L233.9,203.6 L234.9,203.1 L235.9,202.9 L236.7,203.1 L237.2,203.8 L237.4,204.7 L233.9,445.7 L233.9,445.7 L233.7,446.7 L233.1,447.8 L232.2,448.6 L231.2,449.1 L230.1,449.3 L229.2,449.0 L228.7,448.4 L228.5,447.5 Z" stroke-width="1.48"/>
<path d="M235.5,445.2 L239.0,204.1 L239.2,203.1 L239.7,202.1 L240.6,201.2 L241.6,200.7 L242.5,200.5 L243.4,200.8 L243.9,201.4 L244.1,202.3 L241.0,443.4 L241.0,443.4 L240.7,444.4 L240.1,445.4 L239.3,446.3 L238.2,446.8 L237.2,447.0 L236.3,446.7 L235.7,446.1 L235.5,445.2 Z" stroke-width="1.48"/>
<path d="M242.6,442.9 L245.6,201.7 L245.8,200.7 L246.4,199.7 L247.2,198.8 L248.2,198.3 L249.2,198.1 L250.0,198.4 L250.6,199.0 L250.8,199.9 L248.0,441.1 L248.0,441.1 L247.8,442.1 L247.2,443.1 L246.3,444.0 L245.3,444.5 L244.2,444.6 L243.4,444.4 L242.8,443.8 L242.6,442.9 Z" stroke-width="1.48"/>
<path d="M254.4,196.6 L251.8,442.9" stroke-width="1.48"/>
<path d="M258.0,195.3 L255.6,441.6" stroke-width="1.48"/>
<circle cx="222.1" cy="506.5" r="1.1" fill="#000" stroke="none"/>
<circle cx="252.9" cy="496.6" r="1.1" fill="#000" stroke="none"/>
<path d="M280.2,132.0 L281.8,131.7 L283.3,131.8 L284.5,132.3 L285.5,133.2 L286.0,134.5 L286.2,135.9 L282.6,501.3 L282.3,502.9 L281.6,504.6 L280.6,506.2 L279.2,507.5 L277.6,508.7 L275.9,509.4 L240.6,520.7 L238.9,521.0 L237.3,520.9 L236.0,520.4 L234.9,519.5 L234.3,518.3 L234.1,516.8 L241.7,151.5 L241.9,149.9 L242.6,148.2 L243.5,146.6 L244.8,145.2 L246.3,144.1 L247.9,143.4 Z" fill="#fff" stroke-width="1.72"/>
<path d="M278.2,136.3 L279.3,136.0 L280.4,136.1 L281.4,136.5 L282.1,137.1 L282.5,138.1 L282.7,139.2 L278.7,500.5 L278.5,501.7 L278.0,503.0 L277.2,504.1 L276.2,505.2 L275.0,506.0 L273.7,506.6 L242.9,516.5 L241.6,516.7 L240.4,516.6 L239.4,516.3 L238.6,515.6 L238.2,514.6 L238.0,513.5 L245.2,152.3 L245.4,151.1 L245.8,149.8 L246.6,148.6 L247.5,147.6 L248.6,146.8 L249.8,146.2 Z" stroke-width="1.40"/>
<path d="M269.9,151.7 L272.7,151.1 L275.3,151.2 L277.8,152.0 L279.9,153.5 L281.6,155.6 L282.9,158.3 L283.7,161.4 L283.9,164.8 L283.8,178.9 L283.5,182.5 L282.6,186.2 L281.2,189.8 L279.4,193.2 L277.2,196.2 L274.7,198.7 L272.0,200.7 L269.2,202.0 L266.1,203.1 L263.3,203.7 L260.6,203.6 L258.2,202.8 L256.0,201.3 L254.3,199.1 L253.0,196.5 L252.3,193.3 L252.1,189.9 L252.3,175.8 L252.6,172.2 L253.5,168.5 L254.9,164.9 L256.7,161.6 L258.9,158.5 L261.4,156.0 L264.1,154.1 L266.8,152.7 Z" stroke-width="1.40"/>
<path d="M265.7,452.6 L268.7,451.9 L271.5,452.0 L274.1,452.9 L276.4,454.4 L278.3,456.5 L279.7,459.2 L280.5,462.3 L280.7,465.7 L280.6,481.8 L280.2,485.5 L279.3,489.1 L277.9,492.7 L275.9,496.1 L273.6,499.1 L270.9,501.6 L268.0,503.6 L265.0,504.9 L261.7,505.9 L258.7,506.6 L255.8,506.5 L253.2,505.6 L250.9,504.1 L249.0,502.0 L247.6,499.3 L246.8,496.2 L246.6,492.8 L246.9,476.7 L247.2,473.0 L248.2,469.4 L249.6,465.8 L251.6,462.4 L253.9,459.4 L256.6,456.9 L259.5,454.9 L262.4,453.6 Z" stroke-width="1.40"/>
<path d="M243.5,453.8 L248.1,212.3 L248.3,211.2 L248.9,210.2 L249.7,209.4 L250.7,208.9 L251.7,208.7 L252.5,209.0 L253.0,209.6 L253.2,210.5 L249.0,452.0 L249.0,452.0 L248.7,453.0 L248.1,454.0 L247.2,454.9 L246.2,455.4 L245.2,455.5 L244.3,455.3 L243.7,454.6 L243.5,453.8 Z" stroke-width="1.48"/>
<path d="M250.6,451.5 L254.8,210.0 L255.0,208.9 L255.5,207.9 L256.4,207.1 L257.4,206.6 L258.4,206.4 L259.2,206.7 L259.7,207.3 L259.9,208.2 L256.0,449.7 L256.0,449.7 L255.8,450.7 L255.2,451.7 L254.3,452.6 L253.3,453.1 L252.2,453.2 L251.3,453.0 L250.8,452.4 L250.6,451.5 Z" stroke-width="1.48"/>
<path d="M257.6,449.2 L261.4,207.7 L261.7,206.6 L262.2,205.6 L263.1,204.8 L264.0,204.3 L265.0,204.1 L265.9,204.4 L266.4,205.0 L266.6,205.9 L263.1,447.4 L263.1,447.4 L262.9,448.4 L262.3,449.4 L261.4,450.3 L260.3,450.8 L259.3,450.9 L258.4,450.7 L257.8,450.1 L257.6,449.2 Z" stroke-width="1.48"/>
<path d="M264.7,446.9 L268.1,205.4 L268.3,204.3 L268.9,203.3 L269.7,202.5 L270.7,202.0 L271.7,201.8 L272.5,202.1 L273.1,202.7 L273.3,203.6 L270.1,445.1 L270.1,445.1 L269.9,446.1 L269.3,447.1 L268.4,448.0 L267.4,448.5 L266.3,448.7 L265.5,448.4 L264.9,447.8 L264.7,446.9 Z" stroke-width="1.48"/>
<path d="M276.9,200.3 L273.9,446.9" stroke-width="1.48"/>
<path d="M280.5,199.1 L277.7,445.7" stroke-width="1.48"/>
<circle cx="244.1" cy="510.6" r="1.1" fill="#000" stroke="none"/>
<circle cx="274.9" cy="500.7" r="1.1" fill="#000" stroke="none"/>
<path d="M302.8,135.8 L304.4,135.4 L305.9,135.6 L307.1,136.1 L308.1,137.0 L308.6,138.3 L308.8,139.8 L304.6,505.4 L304.3,507.0 L303.6,508.7 L302.6,510.2 L301.2,511.6 L299.6,512.8 L297.9,513.5 L262.6,524.8 L260.9,525.1 L259.3,525.0 L258.0,524.5 L257.0,523.6 L256.3,522.3 L256.1,520.8 L264.3,154.7 L264.5,153.0 L265.1,151.4 L266.1,149.8 L267.4,148.4 L268.9,147.3 L270.5,146.6 Z" fill="#fff" stroke-width="1.72"/>
<path d="M300.8,140.0 L301.9,139.7 L303.0,139.8 L304.0,140.2 L304.7,140.9 L305.1,141.9 L305.3,143.0 L300.7,504.6 L300.6,505.8 L300.1,507.1 L299.3,508.2 L298.2,509.3 L297.0,510.1 L295.7,510.7 L264.9,520.6 L263.6,520.8 L262.4,520.7 L261.4,520.3 L260.6,519.7 L260.2,518.7 L260.0,517.6 L267.8,155.5 L267.9,154.3 L268.4,153.0 L269.2,151.8 L270.1,150.8 L271.2,150.0 L272.4,149.4 Z" stroke-width="1.40"/>
<path d="M292.5,155.3 L295.2,154.7 L297.9,154.8 L300.3,155.7 L302.4,157.2 L304.2,159.4 L305.5,162.1 L306.2,165.2 L306.5,168.7 L306.3,182.8 L306.0,186.4 L305.1,190.1 L303.7,193.6 L301.9,197.0 L299.7,199.9 L297.2,202.4 L294.5,204.4 L291.7,205.7 L288.6,206.7 L285.8,207.3 L283.1,207.1 L280.7,206.3 L278.5,204.7 L276.8,202.6 L275.5,199.9 L274.8,196.7 L274.6,193.3 L274.9,179.2 L275.2,175.5 L276.1,171.9 L277.5,168.3 L279.3,164.9 L281.5,162.0 L284.0,159.5 L286.6,157.6 L289.4,156.3 Z" stroke-width="1.40"/>
<path d="M287.8,456.6 L290.8,456.0 L293.6,456.1 L296.2,456.9 L298.5,458.4 L300.4,460.6 L301.7,463.2 L302.6,466.4 L302.8,469.8 L302.6,485.9 L302.3,489.5 L301.4,493.2 L299.9,496.8 L298.0,500.2 L295.6,503.2 L292.9,505.7 L290.0,507.7 L287.0,509.0 L283.7,510.0 L280.7,510.6 L277.8,510.5 L275.2,509.7 L272.9,508.2 L271.0,506.1 L269.7,503.4 L268.9,500.3 L268.6,496.8 L269.0,480.7 L269.3,477.0 L270.3,473.4 L271.7,469.8 L273.7,466.4 L276.0,463.4 L278.7,460.9 L281.6,458.9 L284.5,457.6 Z" stroke-width="1.40"/>
<path d="M265.6,457.7 L270.6,215.7 L270.8,214.6 L271.4,213.6 L272.2,212.8 L273.2,212.3 L274.2,212.1 L275.0,212.4 L275.5,213.1 L275.7,214.0 L271.1,455.9 L271.1,455.9 L270.8,457.0 L270.2,458.0 L269.3,458.8 L268.3,459.3 L267.3,459.5 L266.4,459.2 L265.8,458.6 L265.6,457.7 Z" stroke-width="1.48"/>
<path d="M272.7,455.4 L277.2,213.4 L277.5,212.4 L278.0,211.4 L278.9,210.6 L279.9,210.1 L280.8,209.9 L281.7,210.2 L282.2,210.8 L282.4,211.7 L278.1,453.7 L278.1,453.7 L277.9,454.7 L277.3,455.7 L276.4,456.5 L275.4,457.1 L274.3,457.2 L273.4,456.9 L272.9,456.3 L272.7,455.4 Z" stroke-width="1.48"/>
<path d="M279.7,453.1 L283.9,211.2 L284.1,210.2 L284.7,209.2 L285.6,208.4 L286.5,207.9 L287.5,207.7 L288.3,208.0 L288.9,208.6 L289.1,209.5 L285.2,451.4 L285.2,451.4 L285.0,452.4 L284.4,453.4 L283.5,454.3 L282.4,454.8 L281.4,454.9 L280.5,454.7 L279.9,454.0 L279.7,453.1 Z" stroke-width="1.48"/>
<path d="M286.8,450.9 L290.6,209.0 L290.8,208.0 L291.4,207.0 L292.2,206.2 L293.2,205.6 L294.2,205.5 L295.0,205.8 L295.6,206.4 L295.8,207.3 L292.2,449.1 L292.2,449.1 L292.0,450.2 L291.4,451.2 L290.5,452.0 L289.5,452.5 L288.4,452.7 L287.6,452.4 L287.0,451.8 L286.8,450.9 Z" stroke-width="1.48"/>
<path d="M299.4,204.1 L296.0,450.9" stroke-width="1.48"/>
<path d="M303.0,202.9 L299.8,449.7" stroke-width="1.48"/>
<circle cx="266.1" cy="514.7" r="1.1" fill="#000" stroke="none"/>
<circle cx="296.9" cy="504.8" r="1.1" fill="#000" stroke="none"/>
<ellipse cx="295.1" cy="182.5" rx="11" ry="19" transform="rotate(8 295.1 182.5)" fill="#fff" stroke-width="1.25"/>
<ellipse cx="295.1" cy="182.5" rx="8" ry="15" transform="rotate(8 295.1 182.5)" fill="#fff" stroke-width="1.01"/>
<path d="M294.1,191.5 L298.1,172.5 M297.1,190.5 L300.1,176.5" stroke-width="0.94"/>
<ellipse cx="291.7" cy="484.4" rx="11" ry="19" transform="rotate(8 291.7 484.4)" fill="#fff" stroke-width="1.25"/>
<ellipse cx="291.7" cy="484.4" rx="8" ry="15" transform="rotate(8 291.7 484.4)" fill="#fff" stroke-width="1.01"/>
<path d="M290.7,493.4 L294.7,474.4 M293.7,492.4 L296.7,478.4" stroke-width="0.94"/>
</g>

</g>
<g id="callouts">
<circle cx="111.9" cy="278.8" r="14.3" fill="#fff" stroke="#000" stroke-width="1.25"/>
<text x="111.9" y="284.1" transform="translate(111.9 0) scale(0.7 1) translate(-111.9 0)" text-anchor="middle">1</text>
<circle cx="191.4" cy="27.6" r="14.3" fill="#fff" stroke="#000" stroke-width="1.25"/>
<text x="191.4" y="32.9" transform="translate(191.4 0) scale(0.7 1) translate(-191.4 0)" text-anchor="middle">2</text>
<circle cx="360.3" cy="26.2" r="14.3" fill="#fff" stroke="#000" stroke-width="1.25"/>
<text x="360.3" y="31.5" transform="translate(360.3 0) scale(0.7 1) translate(-360.3 0)" text-anchor="middle">3</text>
<circle cx="630.7" cy="685.5" r="14.3" fill="#fff" stroke="#000" stroke-width="1.25"/>
<text x="630.7" y="690.8" transform="translate(630.7 0) scale(0.7 1) translate(-630.7 0)" text-anchor="middle">4</text>
<circle cx="709.8" cy="80.6" r="14.3" fill="#fff" stroke="#000" stroke-width="1.25"/>
<text x="709.8" y="85.89999999999999" transform="translate(709.8 0) scale(0.7 1) translate(-709.8 0)" text-anchor="middle">5</text>
<circle cx="870.5" cy="106.2" r="14.3" fill="#fff" stroke="#000" stroke-width="1.25"/>
<text x="870.5" y="111.5" transform="translate(870.5 0) scale(0.7 1) translate(-870.5 0)" text-anchor="middle">6</text>
<circle cx="645.4" cy="46.6" r="14.3" fill="#fff" stroke="#000" stroke-width="1.25"/>
<text x="645.4" y="51.9" transform="translate(645.4 0) scale(0.7 1) translate(-645.4 0)" text-anchor="middle">7</text>
<circle cx="554.5" cy="117.1" r="14.3" fill="#fff" stroke="#000" stroke-width="1.25"/>
<text x="554.5" y="122.39999999999999" transform="translate(554.5 0) scale(0.7 1) translate(-554.5 0)" text-anchor="middle">8</text>
<circle cx="846.2" cy="690.7" r="14.3" fill="#fff" stroke="#000" stroke-width="1.25"/>
<text x="846.2" y="696.0" transform="translate(846.2 0) scale(0.7 1) translate(-846.2 0)" text-anchor="middle">9</text>
<circle cx="966.9" cy="694.1" r="14.3" fill="#fff" stroke="#000" stroke-width="1.25"/>
<text x="966.9" y="699.4" transform="translate(966.9 0) scale(0.7 1) translate(-966.9 0)" text-anchor="middle">10</text>
<circle cx="589.9" cy="634.2" r="14.3" fill="#fff" stroke="#000" stroke-width="1.25"/>
<text x="589.9" y="639.5" transform="translate(589.9 0) scale(0.7 1) translate(-589.9 0)" text-anchor="middle">11</text>
<circle cx="567.1" cy="684.2" r="14.3" fill="#fff" stroke="#000" stroke-width="1.25"/>
<text x="567.1" y="689.5" transform="translate(567.1 0) scale(0.7 1) translate(-567.1 0)" text-anchor="middle">12</text>
<circle cx="324.2" cy="670.6" r="14.3" fill="#fff" stroke="#000" stroke-width="1.25"/>
<text x="324.2" y="675.9" transform="translate(324.2 0) scale(0.7 1) translate(-324.2 0)" text-anchor="middle">13</text>
<circle cx="483.3" cy="678.4" r="14.3" fill="#fff" stroke="#000" stroke-width="1.25"/>
<text x="483.3" y="683.6999999999999" transform="translate(483.3 0) scale(0.7 1) translate(-483.3 0)" text-anchor="middle">14</text>
<circle cx="421.9" cy="674.1" r="14.3" fill="#fff" stroke="#000" stroke-width="1.25"/>
<text x="421.9" y="679.4" transform="translate(421.9 0) scale(0.7 1) translate(-421.9 0)" text-anchor="middle">15</text>
<circle cx="372.7" cy="673.9" r="14.3" fill="#fff" stroke="#000" stroke-width="1.25"/>
<text x="372.7" y="679.1999999999999" transform="translate(372.7 0) scale(0.7 1) translate(-372.7 0)" text-anchor="middle">16</text>
</g>

<g id="wm" style="mix-blend-mode:multiply">
 <g fill="#bbbbbb">
  <!-- H -->
  <rect x="0" y="309" width="56" height="185"/>
  <rect x="117.3" y="309" width="56" height="185"/>
  <rect x="56" y="372.8" width="62" height="46"/>
  <!-- U umlaut dots -->
  <rect x="224" y="254" width="40" height="28"/>
  <rect x="327" y="254" width="41" height="28"/>
  <!-- U -->
  <path d="M211,309 H264 V420 C264,440 275,450 295,450 C315,450 327,440 327,420 V309 H382 V440 C382,475 355,496 325,496 H268 C235,496 211,475 211,440 Z"/>
  <!-- T -->
  <rect x="405.8" y="309" width="168.7" height="45.6"/>
  <rect x="462.8" y="354" width="54.6" height="140"/>
  <!-- E -->
  <rect x="599.7" y="309" width="55.5" height="185"/>
  <rect x="599.7" y="309" width="149.3" height="40"/>
  <rect x="599.7" y="377.2" width="142.5" height="37.6"/>
  <rect x="599.7" y="452.2" width="152.4" height="41.6"/>
  <!-- R -->
  <path d="M782,309 H905 C935,309 944,340 944,368 C944,392 928,408 903,411 L958.3,494 H895 L858,422 Q852,417 837,418 V494 H782 Z"/>
  <!-- gray wing -->
  <path d="M955.1,230 H889.7 C880,240.5 850,268 850,295 L850,312 L877,312 L877,305 C878,275 901,251.5 916.2,250 L939.3,249 Z"/>
 </g>
 <rect x="733.8" y="308" width="3" height="41" fill="#fff"/>
 <!-- counter -->
 <path d="M837,348 H872 C892,348 892,378 872,378 H837 Z" fill="#fff"/>
 <!-- red -->
 <path d="M975.5,254.8 H916.2 C900,258 878,285 877.3,326 H902.1 C903,285 926,271 964,269.5 Z" fill="#f5abb3" stroke="#fff" stroke-width="11" paint-order="stroke"/>
 <!-- yellow -->
 <path d="M1006,274.5 H950 C925,275.5 904,292 903.5,330 V347 H980 V300 H1001 Z" fill="#fbf6ab" stroke="#fff" stroke-width="10" paint-order="stroke"/>
</g>

</svg>
</body></html>
